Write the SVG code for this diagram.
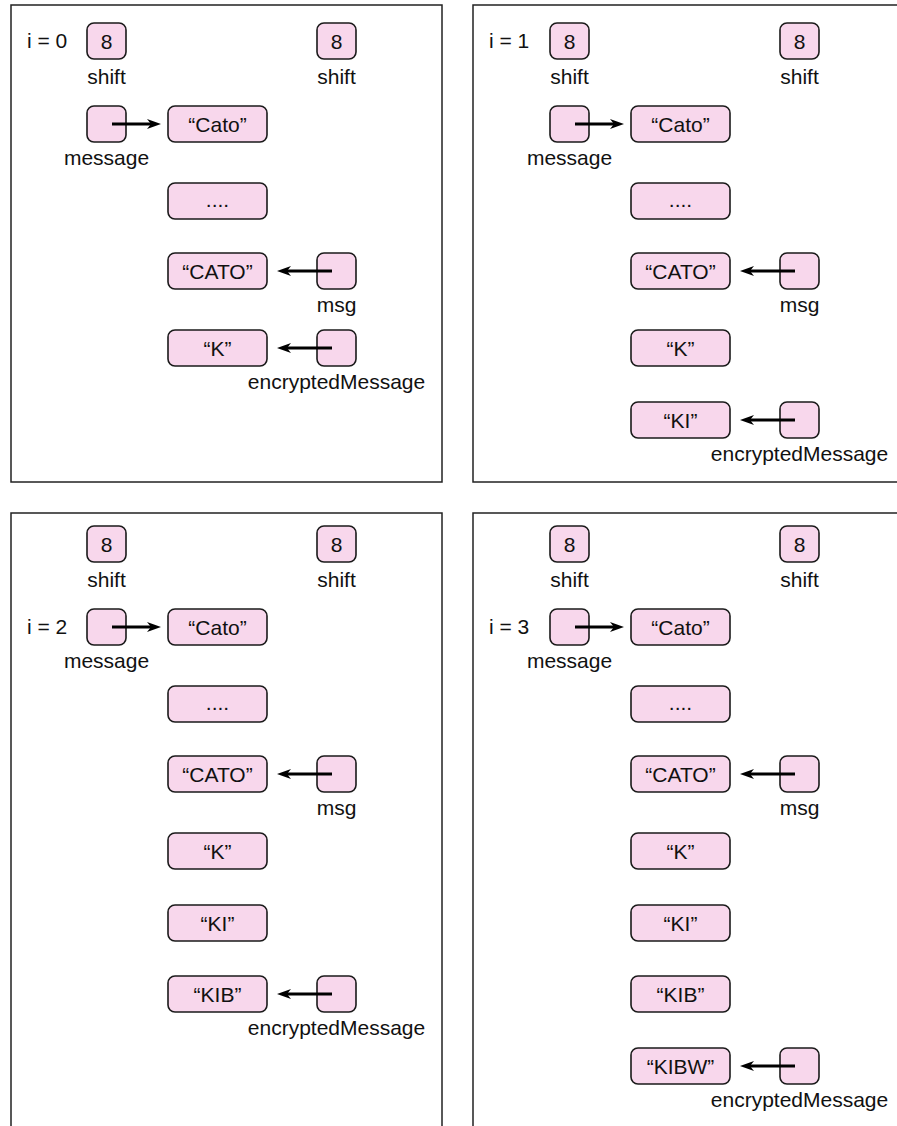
<svg xmlns="http://www.w3.org/2000/svg" width="897" height="1126" viewBox="0 0 897 1126">
<style>
.bg{fill:#ffffff}
.panel{fill:none;stroke:#222;stroke-width:1.5}
.box{fill:#f8d7ec;stroke:#1a1a1a;stroke-width:1.6}
.t{font-family:"Liberation Sans",Arial,Helvetica,sans-serif;font-size:21px;fill:#111}
.c{text-anchor:middle}
.arrow{fill:none;stroke:#000;stroke-width:3;marker-end:url(#ah)}
</style>
<defs>
<marker id="ah" markerUnits="userSpaceOnUse" markerWidth="16" markerHeight="12" refX="4" refY="6" orient="auto">
<path d="M0,1 L14,6 L0,11 L4,6 Z" fill="#000"/>
</marker>
</defs>
<rect class="bg" x="0" y="0" width="897" height="1126"/>

<!-- Panel 1 -->
<g id="panel1">
<rect class="panel" x="11" y="5" width="431" height="477"/>
<text class="t" x="27" y="48">i = 0</text>
<g id="p1-shift-a"><rect class="box" x="87" y="23" width="39" height="36" rx="7"/><text class="t c" x="106.5" y="48.5">8</text><text class="t c" x="106.5" y="84">shift</text></g>
<g id="p1-shift-b"><rect class="box" x="317" y="23" width="39" height="36" rx="7"/><text class="t c" x="336.5" y="48.5">8</text><text class="t c" x="336.5" y="84">shift</text></g>
<g id="p1-message"><rect class="box" x="87" y="106" width="39" height="36" rx="7"/><text class="t c" x="106.5" y="165">message</text></g>
<g id="p1-cato"><rect class="box" x="168" y="106" width="99" height="36" rx="7"/><text class="t c" x="217.5" y="131.5">“Cato”</text></g>
<g id="p1-dots"><rect class="box" x="168" y="183" width="99" height="36" rx="7"/><text class="t c" x="217.5" y="207">....</text></g>
<g id="p1-CATO"><rect class="box" x="168" y="253" width="99" height="36" rx="7"/><text class="t c" x="217.5" y="278.5">“CATO”</text></g>
<g id="p1-msg"><rect class="box" x="317" y="253" width="39" height="36" rx="7"/><text class="t c" x="336.5" y="312">msg</text></g>
<g id="p1-K"><rect class="box" x="168" y="330" width="99" height="36" rx="7"/><text class="t c" x="217.5" y="355.5">“K”</text></g>
<g id="p1-enc"><rect class="box" x="317" y="330" width="39" height="36" rx="7"/><text class="t c" x="336.5" y="389">encryptedMessage</text></g>
</g>

<!-- Panel 2 -->
<g id="panel2" transform="translate(463,0)">
<rect class="panel" x="10" y="5" width="450" height="477"/>
<text class="t" x="26" y="48">i = 1</text>
<g id="p2-shift-a"><rect class="box" x="87" y="23" width="39" height="36" rx="7"/><text class="t c" x="106.5" y="48.5">8</text><text class="t c" x="106.5" y="84">shift</text></g>
<g id="p2-shift-b"><rect class="box" x="317" y="23" width="39" height="36" rx="7"/><text class="t c" x="336.5" y="48.5">8</text><text class="t c" x="336.5" y="84">shift</text></g>
<g id="p2-message"><rect class="box" x="87" y="106" width="39" height="36" rx="7"/><text class="t c" x="106.5" y="165">message</text></g>
<g id="p2-cato"><rect class="box" x="168" y="106" width="99" height="36" rx="7"/><text class="t c" x="217.5" y="131.5">“Cato”</text></g>
<g id="p2-dots"><rect class="box" x="168" y="183" width="99" height="36" rx="7"/><text class="t c" x="217.5" y="207">....</text></g>
<g id="p2-CATO"><rect class="box" x="168" y="253" width="99" height="36" rx="7"/><text class="t c" x="217.5" y="278.5">“CATO”</text></g>
<g id="p2-msg"><rect class="box" x="317" y="253" width="39" height="36" rx="7"/><text class="t c" x="336.5" y="312">msg</text></g>
<g id="p2-K"><rect class="box" x="168" y="330" width="99" height="36" rx="7"/><text class="t c" x="217.5" y="355.5">“K”</text></g>
<g id="p2-KI"><rect class="box" x="168" y="402" width="99" height="36" rx="7"/><text class="t c" x="217.5" y="427.5">“KI”</text></g>
<g id="p2-enc"><rect class="box" x="317" y="402" width="39" height="36" rx="7"/><text class="t c" x="336.5" y="461">encryptedMessage</text></g>
</g>

<!-- Panel 3 -->
<g id="panel3" transform="translate(0,503)">
<rect class="panel" x="11" y="10" width="431" height="700"/>
<text class="t" x="27" y="131">i = 2</text>
<g id="p3-shift-a"><rect class="box" x="87" y="23" width="39" height="36" rx="7"/><text class="t c" x="106.5" y="48.5">8</text><text class="t c" x="106.5" y="84">shift</text></g>
<g id="p3-shift-b"><rect class="box" x="317" y="23" width="39" height="36" rx="7"/><text class="t c" x="336.5" y="48.5">8</text><text class="t c" x="336.5" y="84">shift</text></g>
<g id="p3-message"><rect class="box" x="87" y="106" width="39" height="36" rx="7"/><text class="t c" x="106.5" y="165">message</text></g>
<g id="p3-cato"><rect class="box" x="168" y="106" width="99" height="36" rx="7"/><text class="t c" x="217.5" y="131.5">“Cato”</text></g>
<g id="p3-dots"><rect class="box" x="168" y="183" width="99" height="36" rx="7"/><text class="t c" x="217.5" y="207">....</text></g>
<g id="p3-CATO"><rect class="box" x="168" y="253" width="99" height="36" rx="7"/><text class="t c" x="217.5" y="278.5">“CATO”</text></g>
<g id="p3-msg"><rect class="box" x="317" y="253" width="39" height="36" rx="7"/><text class="t c" x="336.5" y="312">msg</text></g>
<g id="p3-K"><rect class="box" x="168" y="330" width="99" height="36" rx="7"/><text class="t c" x="217.5" y="355.5">“K”</text></g>
<g id="p3-KI"><rect class="box" x="168" y="402" width="99" height="36" rx="7"/><text class="t c" x="217.5" y="427.5">“KI”</text></g>
<g id="p3-KIB"><rect class="box" x="168" y="473" width="99" height="36" rx="7"/><text class="t c" x="217.5" y="498.5">“KIB”</text></g>
<g id="p3-enc"><rect class="box" x="317" y="473" width="39" height="36" rx="7"/><text class="t c" x="336.5" y="532">encryptedMessage</text></g>
</g>

<!-- Panel 4 -->
<g id="panel4" transform="translate(463,503)">
<rect class="panel" x="10" y="10" width="450" height="700"/>
<text class="t" x="26" y="131">i = 3</text>
<g id="p4-shift-a"><rect class="box" x="87" y="23" width="39" height="36" rx="7"/><text class="t c" x="106.5" y="48.5">8</text><text class="t c" x="106.5" y="84">shift</text></g>
<g id="p4-shift-b"><rect class="box" x="317" y="23" width="39" height="36" rx="7"/><text class="t c" x="336.5" y="48.5">8</text><text class="t c" x="336.5" y="84">shift</text></g>
<g id="p4-message"><rect class="box" x="87" y="106" width="39" height="36" rx="7"/><text class="t c" x="106.5" y="165">message</text></g>
<g id="p4-cato"><rect class="box" x="168" y="106" width="99" height="36" rx="7"/><text class="t c" x="217.5" y="131.5">“Cato”</text></g>
<g id="p4-dots"><rect class="box" x="168" y="183" width="99" height="36" rx="7"/><text class="t c" x="217.5" y="207">....</text></g>
<g id="p4-CATO"><rect class="box" x="168" y="253" width="99" height="36" rx="7"/><text class="t c" x="217.5" y="278.5">“CATO”</text></g>
<g id="p4-msg"><rect class="box" x="317" y="253" width="39" height="36" rx="7"/><text class="t c" x="336.5" y="312">msg</text></g>
<g id="p4-K"><rect class="box" x="168" y="330" width="99" height="36" rx="7"/><text class="t c" x="217.5" y="355.5">“K”</text></g>
<g id="p4-KI"><rect class="box" x="168" y="402" width="99" height="36" rx="7"/><text class="t c" x="217.5" y="427.5">“KI”</text></g>
<g id="p4-KIB"><rect class="box" x="168" y="473" width="99" height="36" rx="7"/><text class="t c" x="217.5" y="498.5">“KIB”</text></g>
<g id="p4-KIBW"><rect class="box" x="168" y="545" width="99" height="36" rx="7"/><text class="t c" x="217.5" y="570.5">“KIBW”</text></g>
<g id="p4-enc"><rect class="box" x="317" y="545" width="39" height="36" rx="7"/><text class="t c" x="336.5" y="604">encryptedMessage</text></g>
</g>

<g id="connectors">
<line class="arrow" x1="112" y1="124" x2="151" y2="124"/>
<line class="arrow" x1="332" y1="271" x2="287" y2="271"/>
<line class="arrow" x1="332" y1="348" x2="287" y2="348"/>
<line class="arrow" x1="575" y1="124" x2="614" y2="124"/>
<line class="arrow" x1="795" y1="271" x2="750" y2="271"/>
<line class="arrow" x1="795" y1="420" x2="750" y2="420"/>
<line class="arrow" x1="112" y1="627" x2="151" y2="627"/>
<line class="arrow" x1="332" y1="774" x2="287" y2="774"/>
<line class="arrow" x1="332" y1="994" x2="287" y2="994"/>
<line class="arrow" x1="575" y1="627" x2="614" y2="627"/>
<line class="arrow" x1="795" y1="774" x2="750" y2="774"/>
<line class="arrow" x1="795" y1="1066" x2="750" y2="1066"/>
</g>
</svg>
